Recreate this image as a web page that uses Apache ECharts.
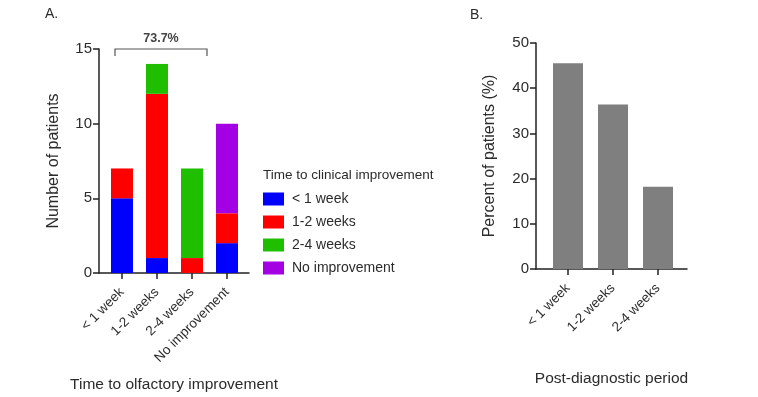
<!DOCTYPE html>
<html>
<head>
<meta charset="utf-8">
<script src="https://cdn.jsdelivr.net/npm/echarts@6/dist/echarts.min.js"></script>
<style>
  html, body { margin: 0; padding: 0; background: #fff; }
  #main { width: 758px; height: 397px; }
</style>
</head>
<body>
<div id="main"></div>
<script>
// panel A: time to olfactory improvement, stacked by clinical improvement
const catsA = ['< 1 week', '1-2 weeks', '2-4 weeks', 'No improvement'];
const lessThan1Week = [5, 1, 0, 2];
const oneToTwoWeeks = [2, 11, 1, 2];
const twoToFourWeeks = [0, 2, 6, 0];
const noImprovement = [0, 0, 0, 6];
const ticksA = [0, 5, 10, 15];
const bracketLabel = '73.7%';

// panel B: post-diagnostic period
const catsB = ['< 1 week', '1-2 weeks', '2-4 weeks'];
const percentB = [45.5, 36.4, 18.2];
const ticksB = [0, 10, 20, 30, 40, 50];

const FONT = 'Liberation Sans, Arial, sans-serif';
const TXT = '#2b2b2b';

const chart = echarts.init(document.getElementById('main'));

// value first, so the stack lands on the y dimension
const toPts = arr => arr.map((v, i) => [v, i]);

const xCommon = (cats) => ({
  type: 'value',
  splitLine: { show: false },
  axisLine: { lineStyle: { color: '#222', width: 1.5 } },
  axisTick: { customValues: cats.map((c, i) => i), length: 6, lineStyle: { color: '#222', width: 1.5 } },
  axisLabel: {
    customValues: cats.map((c, i) => i),
    formatter: v => cats[v],
    rotate: 45, margin: 17, fontSize: 13.5, color: TXT, fontFamily: FONT
  },
  nameLocation: 'middle',
  nameTextStyle: { fontSize: 15.5, color: TXT, fontFamily: FONT }
});

const yCommon = (max, interval) => ({
  type: 'value', min: 0, max: max, interval: interval, position: 'left',
  splitLine: { show: false },
  axisLine: { show: true, onZero: false, lineStyle: { color: '#222', width: 1.5 } },
  axisTick: { show: true, length: 6, lineStyle: { color: '#222', width: 1.5 } },
  axisLabel: { margin: 7, fontSize: 15, color: TXT, fontFamily: FONT },
  nameLocation: 'middle',
  nameTextStyle: { fontSize: 16, color: TXT, fontFamily: FONT }
});

const stackBar = (name, data, color) => ({
  name: name, type: 'bar', stack: 'a', xAxisIndex: 0, yAxisIndex: 0,
  encode: { x: 1, y: 0 },
  barWidth: 22, data: toPts(data), itemStyle: { color: color }
});

const option = {
  animation: false,
  textStyle: { fontFamily: FONT },
  title: [
    { text: 'A.', left: 40, top: 2, textStyle: { fontSize: 14, fontWeight: 'normal', color: TXT } },
    { text: 'B.', left: 465, top: 3, textStyle: { fontSize: 14, fontWeight: 'normal', color: TXT } },
    { text: 'Time to clinical improvement', left: 258, top: 163, textStyle: { fontSize: 13.5, fontWeight: 'normal', color: TXT } }
  ],
  legend: {
    data: catsA,
    orient: 'vertical', left: 258, top: 187,
    itemWidth: 21, itemHeight: 13, itemGap: 9,
    icon: 'rect',
    textStyle: { fontSize: 14, color: TXT, fontFamily: FONT, padding: [0, 0, 0, 3] }
  },
  grid: [
    { left: 99, width: 150, top: 49, height: 224, outerBoundsMode: 'none' },
    { left: 536, width: 151, top: 43, height: 226, outerBoundsMode: 'none' }
  ],
  xAxis: [
    Object.assign(xCommon(catsA), { gridIndex: 0, min: -0.657, max: 3.629, name: 'Time to olfactory improvement', nameGap: 104 }),
    Object.assign(xCommon(catsB), { gridIndex: 1, min: -0.711, max: 2.644, name: 'Post-diagnostic period', nameGap: 102 })
  ],
  yAxis: [
    Object.assign(yCommon(ticksA[ticksA.length - 1], ticksA[1] - ticksA[0]), { gridIndex: 0, name: 'Number of patients', nameGap: 37 }),
    Object.assign(yCommon(ticksB[ticksB.length - 1], ticksB[1] - ticksB[0]), { gridIndex: 1, name: 'Percent of patients (%)', nameGap: 38 })
  ],
  series: [
    stackBar(catsA[0], lessThan1Week, '#0000ff'),
    stackBar(catsA[1], oneToTwoWeeks, '#ff0000'),
    stackBar(catsA[2], twoToFourWeeks, '#1fbf00'),
    stackBar(catsA[3], noImprovement, '#a300e3'),
    {
      // bracket over the first three groups
      type: 'custom', xAxisIndex: 0, yAxisIndex: 0, silent: true,
      data: [[0, 2, 15]],
      renderItem: (params, api) => {
        const a = api.coord([api.value(0), api.value(2)]);
        const b = api.coord([api.value(1), api.value(2)]);
        const x1 = a[0] - 7, x2 = b[0] + 15, y = a[1];
        return {
          type: 'group',
          children: [
            { type: 'polyline', shape: { points: [[x1, y + 7], [x1, y], [x2, y], [x2, y + 7]] },
              style: { stroke: '#555', lineWidth: 1.2, fill: null } },
            { type: 'text', style: { x: (x1 + x2) / 2, y: y - 4, text: bracketLabel, align: 'center', verticalAlign: 'bottom',
              fontSize: 12.5, fontWeight: 'bold', fill: '#444', fontFamily: FONT } }
          ]
        };
      }
    },
    {
      name: 'Percent', type: 'bar', xAxisIndex: 1, yAxisIndex: 1,
      encode: { x: 1, y: 0 },
      barWidth: 30, data: toPts(percentB), itemStyle: { color: '#7f7f7f' }
    }
  ]
};

chart.setOption(option);
</script>
</body>
</html>
